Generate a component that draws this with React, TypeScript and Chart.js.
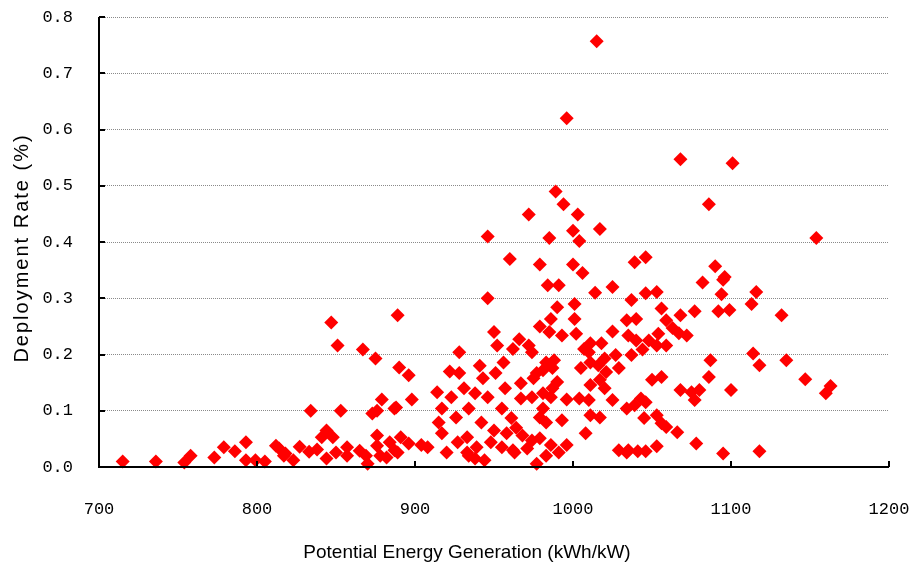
import React, { useEffect, useRef } from "react";
import { Chart, registerables } from "chart.js";

Chart.register(...registerables);

// Potential energy generation (kWh/kW)
const potential: number[] = [
  715, 736, 754, 758, 773, 779, 786, 793, 793, 799, 805, 812, 818,
  834, 853, 873, 879, 876, 887, 844, 841, 848, 814, 817, 823, 827, 833, 838, 844, 850,
  857, 857, 865, 869, 870, 876, 876, 878, 884, 887, 882,
  847, 851, 867, 875, 889, 890,
  946, 950, 952, 928, 896, 922, 928, 941, 956, 951, 943, 962,
  914, 898, 923, 931, 938, 946, 957, 888, 917, 926, 934, 955, 961, 915, 942, 950,
  891, 896, 904, 908, 917, 920, 927, 933, 934, 939, 944, 948, 955, 958, 962, 889, 933, 938,
  984, 991, 1014, 1025, 990, 1001, 979, 986, 1001, 985, 993, 1002, 1025, 1034, 966, 972,
  1011, 1018, 974, 1007, 1010, 1027, 1020, 983, 988, 1011, 1016, 1005, 987, 977, 981, 1021, 1029,
  967, 975, 987, 990, 996, 1011, 1017, 1020, 967, 974, 981, 986, 1004, 1010, 1025, 1034,
  981, 979, 983, 993, 1011, 1017, 964, 968, 974, 979, 986, 991, 996, 983, 977, 971, 963,
  1008, 1029, 1034,
  1082, 1095, 1037, 1046, 1053, 1094, 1116, 1113, 1056, 1068, 1077, 1092, 1099, 1040, 1059,
  1063, 1067, 1072, 1035, 1040, 1048, 1054, 1059, 1053, 1044, 1037, 1087, 1114, 1118, 1050,
  1056, 1086,
  1068, 1075, 1080, 1077, 1100, 1039, 1043, 1046, 1045, 1053, 1056, 1059, 1066, 1078, 1035,
  1041, 1046, 1053, 1095, 1118,
  1015, 996, 989, 994, 972, 1003, 946, 985, 1000, 1004, 1017, 960, 979, 1000, 1006,
  1068, 1101, 1086, 1154, 1039, 1046, 1090, 1096,
  1132, 1135, 1147, 1163, 1160,
];

// Deployment rate (%)
const rate: number[] = [
  0.010, 0.010, 0.008, 0.020, 0.017, 0.035, 0.028, 0.044, 0.012, 0.012, 0.010, 0.038, 0.024,
  0.100, 0.100, 0.095, 0.120, 0.100, 0.104, 0.065, 0.053, 0.053, 0.033, 0.020, 0.012, 0.036, 0.027, 0.031, 0.015, 0.026,
  0.035, 0.020, 0.029, 0.020, 0.006, 0.056, 0.038, 0.020, 0.044, 0.030, 0.017,
  0.257, 0.216, 0.209, 0.193, 0.270, 0.177,
  0.300, 0.240, 0.216, 0.204, 0.163, 0.170, 0.167, 0.180, 0.186, 0.167, 0.158, 0.210,
  0.133, 0.120, 0.124, 0.140, 0.131, 0.124, 0.140, 0.106, 0.104, 0.088, 0.104, 0.104, 0.087, 0.079, 0.079, 0.065,
  0.053, 0.042, 0.039, 0.035, 0.060, 0.026, 0.044, 0.053, 0.020, 0.035, 0.012, 0.044, 0.035, 0.060, 0.030, 0.026, 0.026, 0.015,
  0.323, 0.323, 0.310, 0.320, 0.284, 0.290, 0.250, 0.263, 0.263, 0.240, 0.234, 0.237, 0.241, 0.261, 0.227, 0.216,
  0.220, 0.220, 0.204, 0.210, 0.204, 0.199, 0.193, 0.186, 0.190, 0.186, 0.181, 0.176, 0.176, 0.167, 0.172, 0.169, 0.176,
  0.149, 0.158, 0.140, 0.151, 0.120, 0.146, 0.155, 0.140, 0.122, 0.124, 0.131, 0.124, 0.122, 0.119, 0.119, 0.104,
  0.104, 0.088, 0.079, 0.083, 0.092, 0.088, 0.070, 0.056, 0.047, 0.051, 0.039, 0.026, 0.039, 0.020, 0.006, 0.033, 0.026,
  0.060, 0.030, 0.026,
  0.328, 0.333, 0.297, 0.309, 0.311, 0.307, 0.311, 0.290, 0.282, 0.270, 0.277, 0.277, 0.279, 0.263, 0.261,
  0.247, 0.238, 0.234, 0.234, 0.225, 0.225, 0.237, 0.216, 0.216, 0.209, 0.199, 0.190, 0.202, 0.181, 0.155,
  0.160, 0.160,
  0.137, 0.133, 0.137, 0.119, 0.137, 0.110, 0.122, 0.115, 0.087, 0.092, 0.078, 0.071, 0.062, 0.042, 0.030,
  0.028, 0.028, 0.037, 0.024, 0.028,
  0.757, 0.620, 0.490, 0.467, 0.449, 0.449, 0.410, 0.407, 0.420, 0.402, 0.423, 0.370, 0.360, 0.360, 0.345,
  0.547, 0.540, 0.467, 0.407, 0.364, 0.373, 0.357, 0.338,
  0.270, 0.190, 0.156, 0.144, 0.131,
];

const xTicks: number[] = [700, 800, 900, 1000, 1100, 1200];
const yTicks: number[] = [0, 0.1, 0.2, 0.3, 0.4, 0.5, 0.6, 0.7, 0.8];
const xTitle = "Potential Energy Generation (kWh/kW)";
const yTitle = "Deployment Rate (%)";

const TICK_FONT = "'Liberation Mono', 'DejaVu Sans Mono', monospace";
const TITLE_FONT = "'Liberation Sans', Arial, sans-serif";

const axesPlugin = {
  id: "customAxes",
  afterDatasetsDraw(chart: any) {
    const { ctx, chartArea, scales } = chart;
    const { left, right, top, bottom } = chartArea;
    ctx.save();
    ctx.strokeStyle = "#000";
    ctx.lineWidth = 2;
    ctx.beginPath();
    ctx.moveTo(left, top);
    ctx.lineTo(left, bottom);
    ctx.lineTo(right, bottom);
    ctx.stroke();
    ctx.beginPath();
    for (const v of yTicks) {
      const y = Math.round(scales.y.getPixelForValue(v));
      ctx.moveTo(left, y);
      ctx.lineTo(left + 6, y);
    }
    for (const v of xTicks) {
      const x = Math.round(scales.x.getPixelForValue(v));
      ctx.moveTo(x, bottom);
      ctx.lineTo(x, bottom - 6);
    }
    ctx.stroke();

    // axis titles
    ctx.fillStyle = "#000";
    ctx.textAlign = "center";
    ctx.textBaseline = "middle";
    ctx.font = `19px ${TITLE_FONT}`;
    ctx.fillText(xTitle, 467, 553);
    ctx.translate(22, 248);
    ctx.rotate(-Math.PI / 2);
    ctx.font = `20px ${TITLE_FONT}`;
    (ctx as any).letterSpacing = "2px";
    ctx.fillText(yTitle, 0, 0);
    ctx.restore();
  },
};

export default function App() {
  const ref = useRef<HTMLCanvasElement | null>(null);

  useEffect(() => {
    if (!ref.current) return;
    const points = potential.map((x, i) => ({ x, y: rate[i] }));
    const chart = new Chart(ref.current, {
      type: "scatter",
      data: {
        datasets: [
          {
            data: points,
            pointStyle: "rectRot",
            pointRadius: 7,
            pointBorderWidth: 0,
            backgroundColor: "#ff0000",
            borderColor: "#ff0000",
            clip: false as any,
          },
        ],
      },
      options: {
        animation: false,
        responsive: false,
        maintainAspectRatio: false,
        layout: { padding: { left: 0, top: 17, right: 23, bottom: 0 } },
        plugins: {
          legend: { display: false },
          tooltip: { enabled: false },
        },
        scales: {
          x: {
            type: "linear",
            min: 700,
            max: 1200,
            afterFit: (s: any) => {
              s.height = 104;
            },
            afterBuildTicks: (s: any) => {
              s.ticks = xTicks.map((v) => ({ value: v }));
            },
            grid: { display: false, drawTicks: true, tickLength: 30 },
            border: { display: false },
            ticks: {
              padding: 2,
              color: "#000",
              font: { family: TICK_FONT, size: 17 },
              callback: (v: any) => String(v),
            },
          },
          y: {
            type: "linear",
            min: 0,
            max: 0.8,
            afterFit: (s: any) => {
              s.width = 99;
            },
            afterBuildTicks: (s: any) => {
              s.ticks = yTicks.map((v) => ({ value: v }));
            },
            grid: {
              display: true,
              drawTicks: true,
              tickLength: 24,
              tickColor: "rgba(0,0,0,0)",
              color: "#8a8a8a",
              lineWidth: 1,
            },
            border: { display: false, dash: [1, 1] },
            ticks: {
              padding: 2,
              color: "#000",
              font: { family: TICK_FONT, size: 17 },
              callback: (v: any) => Number(v).toFixed(1),
            },
          },
        },
      },
      plugins: [axesPlugin],
    });
    return () => chart.destroy();
  }, []);

  return (
    <div style={{ position: "fixed", left: 0, top: 0, width: 912, height: 571, background: "#fff" }}>
      <canvas ref={ref} width={912} height={571} style={{ width: 912, height: 571 }} />
    </div>
  );
}
